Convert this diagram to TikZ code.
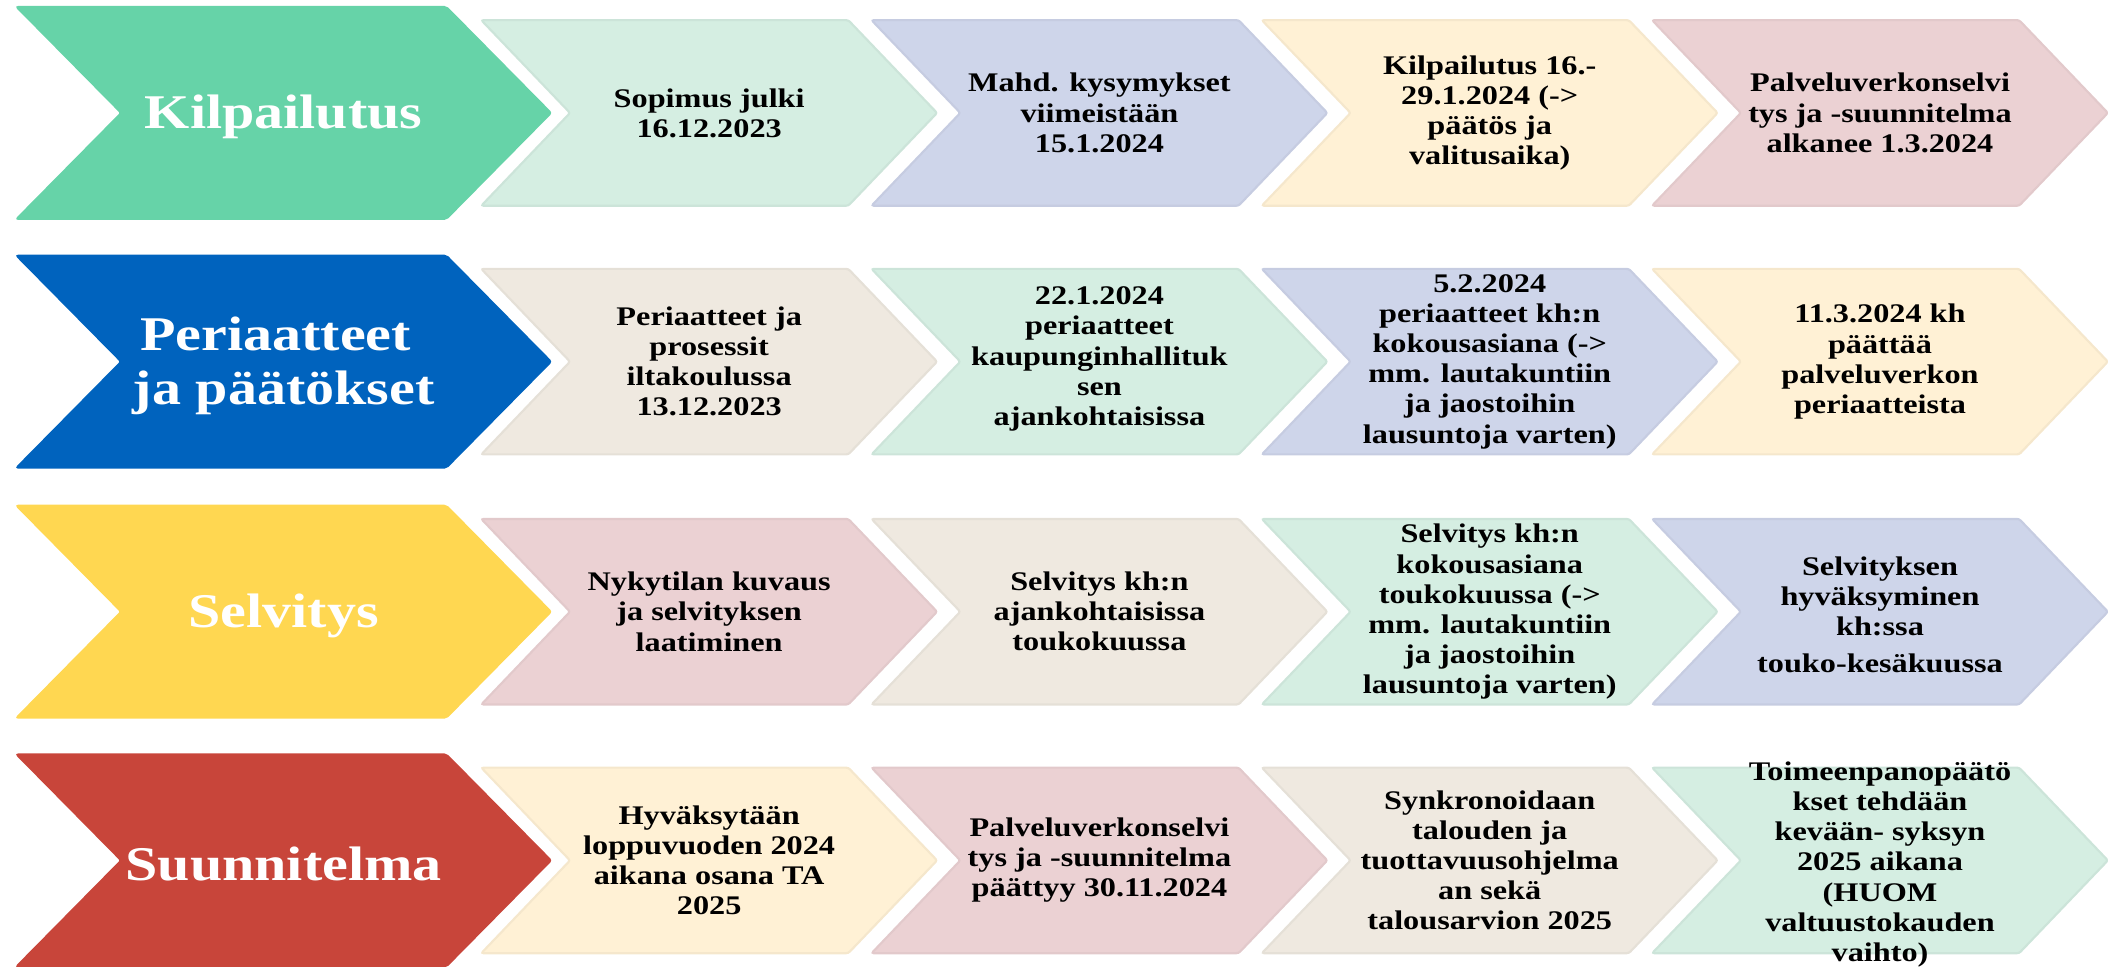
\documentclass[tikz,border=0pt]{standalone}
\usepackage{fontspec}
\setmainfont{Liberation Serif}[FakeStretch=1.2]
\definecolor{cGreen}{HTML}{66D3A8}
\definecolor{cBlue}{HTML}{0063BE}
\definecolor{cYellow}{HTML}{FFD751}
\definecolor{cRed}{HTML}{C8453A}
\definecolor{lGreen}{HTML}{D5EEE2}
\definecolor{lLav}{HTML}{CED5EA}
\definecolor{lCream}{HTML}{FFF1D5}
\definecolor{lPink}{HTML}{EBD1D3}
\definecolor{lBeige}{HTML}{EFE9E0}
% #1 left x, #2 centre y, #3 half height, #4 width to tip, #5 point depth, #6 style
\newcommand\mychev[6]{%
  \path[#6] (#1,#2-#3) -- (#1+#4-#5,#2-#3) -- (#1+#4,#2) -- (#1+#4-#5,#2+#3)
    -- (#1,#2+#3) -- (#1+#5,#2) -- cycle;}
\newcommand\bigchev[2]{\mychev{12}{#1}{79}{398}{78}{bigshape,fill=#2,draw=#2}}
\newcommand\smallchev[3]{\mychev{#1}{#2}{69}{339}{66}{smallshape,fill=#3,draw=#3!96!black}}
\begin{document}
\begin{tikzpicture}[x=0.5pt,y=-0.5pt,
  bigshape/.style={line width=0.6pt,rounded corners=0.8pt},
  smallshape/.style={line width=0.8pt,rounded corners=0.8pt},
  bigtext/.style={text=white,align=center,inner sep=0pt,font=\bfseries\fontsize{18}{20}\selectfont},
  smalltext/.style={text=black,align=center,inner sep=0pt,font=\bfseries\fontsize{10}{11.2}\selectfont}]
\useasboundingbox (0,0) rectangle (1568,719);
% ---------- row 1
\bigchev{84}{cGreen}
\smallchev{358}{84}{lGreen}
\smallchev{648.3}{84}{lLav}
\smallchev{938.6}{84}{lCream}
\smallchev{1228.9}{84}{lPink}
\node[bigtext] (k0) at (211,87) {Kilpailutus};
\node[smalltext] (k1) at (527.5,84) {Sopimus julki\\16.12.2023};
\node[smalltext] (k2) at (817.8,84) {Mahd. kysymykset\\viimeistään\\15.1.2024};
\node[smalltext] (k3) at (1108.1,84) {Kilpailutus 16.-\\29.1.2024 (->\\päätös ja\\valitusaika)};
\node[smalltext] (k4) at (1398.4,84) {Palveluverkonselvi\\tys ja -suunnitelma\\alkanee 1.3.2024};
% ---------- row 2
\bigchev{269}{cBlue}
\smallchev{358}{269}{lBeige}
\smallchev{648.3}{269}{lGreen}
\smallchev{938.6}{269}{lLav}
\smallchev{1228.9}{269}{lCream}
\node[bigtext] (p0) at (211,272) {Periaatteet\kern6pt\\ja päätökset};
\node[smalltext] (p1) at (527.5,269) {Periaatteet ja\\prosessit\\iltakoulussa\\13.12.2023};
\node[smalltext] (p2) at (817.8,267) {22.1.2024\\periaatteet\\kaupunginhallituk\\sen\\ajankohtaisissa};
\node[smalltext] (p3) at (1108.1,269) {5.2.2024\\periaatteet kh:n\\kokousasiana (->\\mm. lautakuntiin\\ja jaostoihin\\lausuntoja varten)};
\node[smalltext] (p4) at (1398.4,269) {11.3.2024 kh\\päättää\\palveluverkon\\periaatteista};
% ---------- row 3
\bigchev{455}{cYellow}
\smallchev{358}{455}{lPink}
\smallchev{648.3}{455}{lBeige}
\smallchev{938.6}{455}{lGreen}
\smallchev{1228.9}{455}{lLav}
\node[bigtext] (s0) at (211,458) {Selvitys};
\node[smalltext] (s1) at (527.5,455) {Nykytilan kuvaus\\ja selvityksen\\laatiminen};
\node[smalltext] (s2) at (817.8,455) {Selvitys kh:n\\ajankohtaisissa\\toukokuussa};
\node[smalltext] (s3) at (1108.1,455) {Selvitys kh:n\\kokousasiana\\toukokuussa (->\\mm. lautakuntiin\\ja jaostoihin\\lausuntoja varten)};
\node[smalltext] (s4) at (1398.4,457) {Selvityksen\\hyväksyminen\\kh:ssa\\[2.5pt]touko-kesäkuussa};
% ---------- row 4
\bigchev{640}{cRed}
\smallchev{358}{640}{lCream}
\smallchev{648.3}{640}{lPink}
\smallchev{938.6}{640}{lBeige}
\smallchev{1228.9}{640}{lGreen}
\node[bigtext] (u0) at (211,643) {Suunnitelma};
\node[smalltext] (u1) at (527.5,640) {Hyväksytään\\loppuvuoden 2024\\aikana osana TA\\2025};
\node[smalltext] (u2) at (817.8,640) {Palveluverkonselvi\\tys ja -suunnitelma\\päättyy 30.11.2024};
\node[smalltext] (u3) at (1108.1,640) {Synkronoidaan\\talouden ja\\tuottavuusohjelma\\an sekä\\talousarvion 2025};
\node[smalltext] (u4) at (1398.4,643) {Toimeenpanopäätö\\kset tehdään\\kevään- syksyn\\2025 aikana\\(HUOM\\valtuustokauden\\vaihto)};
\end{tikzpicture}
\end{document}
